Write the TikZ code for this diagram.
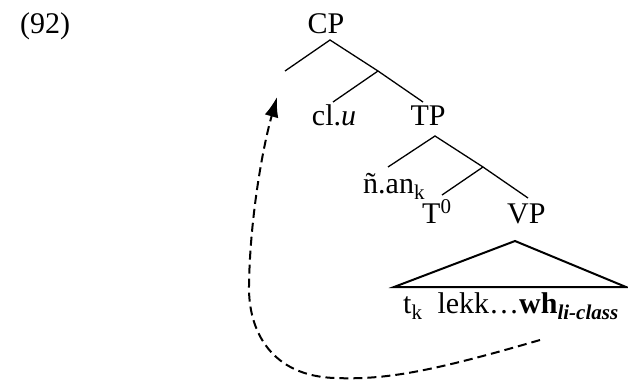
\documentclass[tikz,border=0pt]{standalone}
\usepackage{fontspec}
\setmainfont{Liberation Serif}
\usetikzlibrary{arrows.meta}
\begin{document}
\begin{tikzpicture}[x=1pt,y=-1pt,
  lbl/.style={inner sep=0pt,font=\fontsize{30}{34}\selectfont},
  branch/.style={line width=1.3pt},
  tri/.style={line width=2pt,line join=miter},
  mv/.style={line width=2pt,dash pattern=on 9pt off 5pt,-{Latex[length=20pt,width=14pt]}}]
\useasboundingbox (0,0) rectangle (628,381);
% labels
\node[lbl,anchor=base west] (ex) at (20,33) {(92)};
\node[lbl,anchor=base] (cp) at (326,33) {CP};
\node[lbl,anchor=base] (cl) at (334,125) {cl.\textit{u}};
\node[lbl,anchor=base] (tp) at (428,125) {TP};
\node[lbl,anchor=base west] (nan) at (363,193) {ñ.an\textsubscript{k}};
\node[lbl,anchor=base west] (t0) at (422,223) {T\textsuperscript{0}};
\node[lbl,anchor=base west] (vp) at (507,223) {VP};
\node[lbl,anchor=base west] (str) at (403,313) {t\textsubscript{k}\ \ lekk…\textbf{wh}\textsubscript{\textbf{\textit{li-class}}}};
% branch points
\coordinate (cpA) at (330,40);
\coordinate (cpL) at (285,71);
\coordinate (cbar) at (378,71);
\coordinate (clT) at (333,102);
\coordinate (tpT) at (423,102);
\coordinate (tpA) at (435,136);
\coordinate (nanT) at (388,167);
\coordinate (tbar) at (483,167);
\coordinate (t0T) at (442,195);
\coordinate (vpT) at (528,198);
\coordinate (triA) at (515,241);
\coordinate (triL) at (394,287);
\coordinate (triR) at (626,287);
\draw[branch] (cpL) -- (cpA) -- (cbar) -- (tpT);
\draw[branch] (cbar) -- (clT);
\draw[branch] (nanT) -- (tpA) -- (tbar) -- (vpT);
\draw[branch] (tbar) -- (t0T);
\draw[tri] (triL) -- (triA) -- (triR) -- cycle;
% movement arrow
\coordinate (mvS) at (540,340);
\coordinate (mvE) at (277,97);
\draw[mv] (mvS) .. controls (430,372) and (385,380) .. (335,378)
  .. controls (272,376) and (248,332) .. (249,285)
  .. controls (250,220) and (262,150) .. (mvE);
\end{tikzpicture}
\end{document}
